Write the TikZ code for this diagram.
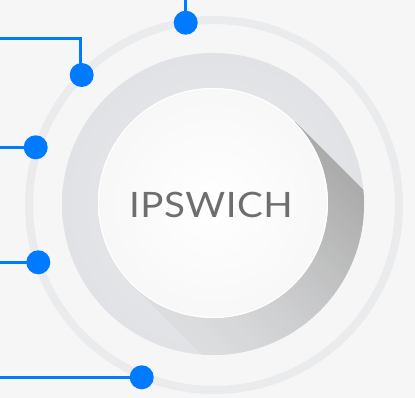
\documentclass[tikz,border=0pt]{standalone}
\usepackage{fontspec}
\setmainfont{Lato}
\newfontfamily\labelfont[FakeStretch=1.1,LetterSpace=1.5]{Lato}
\usetikzlibrary{calc}
\definecolor{bg}{HTML}{F6F6F7}
\definecolor{ringc}{HTML}{EAEBED}
\definecolor{diskc}{HTML}{E1E2E5}
\definecolor{shdark}{HTML}{ABABAB}
\definecolor{shlight}{HTML}{DCDDDF}
\definecolor{blueDot}{HTML}{007AFF}
\definecolor{txt}{HTML}{6E6E6E}
\pgfdeclarelayer{back}
\pgfdeclarelayer{wires}
\pgfsetlayers{back,wires,main}
\tikzset{
  wire/.style={draw=blueDot, line width=3pt},
  dot/.style={circle, fill=blueDot, minimum size=24pt, inner sep=0pt},
}
\begin{document}
\begin{tikzpicture}[x=1pt,y=-1pt]
\useasboundingbox (0,0) rectangle (415,398);
\begin{pgfonlayer}{back}
\fill[bg] (0,0) rectangle (415,398);
% outer thin ring
\draw[ringc, line width=8pt] (214,205) circle (185);
% gray disk
\shade[inner color=diskc!70!white, outer color=diskc] (213,204) circle (151);
% long shadow, drawn as strips
\begin{scope}
  \clip (213,204) circle (151);
  \foreach \i in {0,...,45} {
    \pgfmathsetmacro\wa{\i*5}
    \pgfmathsetmacro\wb{\i*5+6}
    \pgfmathsetmacro\mix{100*(\i/45)^1.3}
    \fill[shdark!\mix!shlight]
      ($(132,285)+(\wa*0.7071,-\wa*0.7071)$) --
      ($(132,285)+(\wa*0.7071+200,-\wa*0.7071+200)$) --
      ($(132,285)+(\wb*0.7071+200,-\wb*0.7071+200)$) --
      ($(132,285)+(\wb*0.7071,-\wb*0.7071)$) -- cycle;
  }
\end{scope}
% white circle
\shade[inner color=white, outer color=black!3] (213,203) circle (115);
\draw[white, line width=1.2pt] (213,203) circle (114.4);
\end{pgfonlayer}
\node[text=txt, font=\labelfont\fontsize{35}{40}\selectfont] (lbl) at (211,204.5) {IPSWICH};
% dots and wires
\node[dot] (d1) at (185.7,22.7) {};
\node[dot] (d2) at (81.7,75) {};
\node[dot] (d3) at (35.7,147.3) {};
\node[dot] (d4) at (38.3,262.3) {};
\node[dot] (d5) at (141.7,377.3) {};
\coordinate (e1) at (185.7,0);
\coordinate (k2) at (80,39);
\coordinate (e2) at (0,39);
\coordinate (e3) at (0,147.3);
\coordinate (e4) at (0,262.3);
\coordinate (e5) at (0,377.3);
\begin{pgfonlayer}{wires}
\draw[wire] (e1) -- (d1.center);
\draw[wire] (e2) -- (k2) -- (k2 |- d2.center);
\draw[wire] (e3) -- (d3.center);
\draw[wire] (e4) -- (d4.center);
\draw[wire] (e5) -- (d5.center);
\end{pgfonlayer}
\end{tikzpicture}
\end{document}
